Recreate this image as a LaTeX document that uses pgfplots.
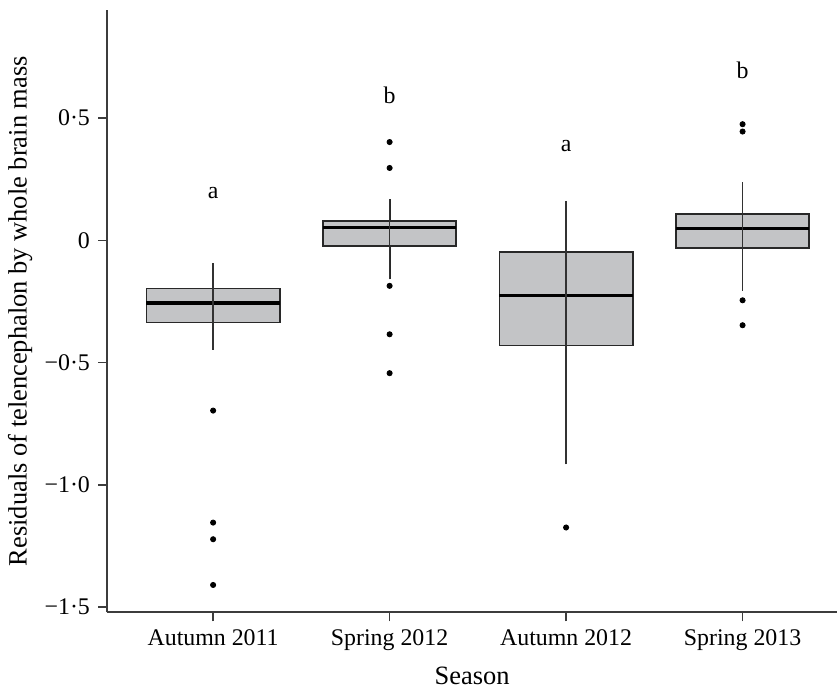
\documentclass[border=0pt]{standalone}
\usepackage{fontspec}
\setmainfont{Liberation Serif}
\usepackage{pgfplots}
\pgfplotsset{compat=1.18}
\usepgfplotslibrary{statistics}
\definecolor{boxfill}{RGB}{195,196,198}
\definecolor{boxedge}{RGB}{40,40,40}
\definecolor{axisgray}{RGB}{60,60,60}
\definecolor{whiskcol}{RGB}{50,50,50}
\begin{document}
\fontsize{12}{14}\selectfont
\begin{tikzpicture}
\begin{axis}[
  scale only axis, width=365.5bp, height=301.7bp,
  xmin=0.4, xmax=4.535, ymin=-1.521, ymax=0.942,
  axis x line*=bottom, axis y line*=left,
  xtick={1,2,3,4},
  xticklabels={Autumn 2011, Spring 2012, Autumn 2012, Spring 2013},
  ytick={-1.5,-1,-0.5,0,0.5},
  yticklabels={−1·5,−1·0,−0·5,0,0·5},
  tick align=outside, major tick length=4.5bp,
  tick style={axisgray, line width=0.8bp},
  axis line style={axisgray, line width=1bp},
  tick label style={font=\fontsize{12}{14}\selectfont},
  label style={font=\fontsize{13.3}{16}\selectfont},
  ylabel shift=-2bp,
  xlabel={Season}, ylabel={Residuals of telencephalon by whole brain mass},
  clip=false,
  boxplot/draw direction=y,
  boxplot/every median/.style={black, line width=1.6bp},
  boxplot/box extend=0.755,
  boxplot/whisker extend=0,
]
% Autumn 2011
\addplot[boxplot prepared={draw position=1, median=-0.256, upper quartile=-0.197, lower quartile=-0.336, upper whisker=-0.092, lower whisker=-0.447}, draw=boxedge, fill=boxfill, line width=0.9bp] coordinates {};
% Spring 2012
\addplot[boxplot prepared={draw position=2, median=0.051, upper quartile=0.079, lower quartile=-0.024, upper whisker=0.169, lower whisker=-0.160}, draw=boxedge, fill=boxfill, line width=0.9bp] coordinates {};
% Autumn 2012
\addplot[boxplot prepared={draw position=3, median=-0.224, upper quartile=-0.049, lower quartile=-0.430, upper whisker=0.162, lower whisker=-0.916}, draw=boxedge, fill=boxfill, line width=0.9bp] coordinates {};
% Spring 2013
\addplot[boxplot prepared={draw position=4, median=0.048, upper quartile=0.108, lower quartile=-0.031, upper whisker=0.238, lower whisker=-0.205}, draw=boxedge, fill=boxfill, line width=0.9bp] coordinates {};
% whisker lines through boxes
\addplot[whiskcol, line width=0.8bp] coordinates {(1,-0.447) (1,-0.092)};
\addplot[whiskcol, line width=0.8bp] coordinates {(2,-0.160) (2,0.169)};
\addplot[whiskcol, line width=0.8bp] coordinates {(3,-0.916) (3,0.162)};
\addplot[whiskcol, line width=0.8bp] coordinates {(4,-0.205) (4,0.238)};
% outliers
\addplot[only marks, mark=*, mark size=1.3bp, black] coordinates {
 (1,-0.696) (1,-1.154) (1,-1.222) (1,-1.409)
 (2,0.402) (2,0.296) (2,-0.186) (2,-0.384) (2,-0.543)
 (3,-1.174)
 (4,0.475) (4,0.445) (4,-0.245) (4,-0.347)
};
\node[font=\fontsize{12}{14}\selectfont] at (axis cs:1,0.193) {a};
\node[font=\fontsize{12}{14}\selectfont] at (axis cs:2,0.595) {b};
\node[font=\fontsize{12}{14}\selectfont] at (axis cs:3,0.387) {a};
\node[font=\fontsize{12}{14}\selectfont] at (axis cs:4,0.697) {b};
\end{axis}
\path ([yshift=5bp]current axis.north);
\end{tikzpicture}
\end{document}
